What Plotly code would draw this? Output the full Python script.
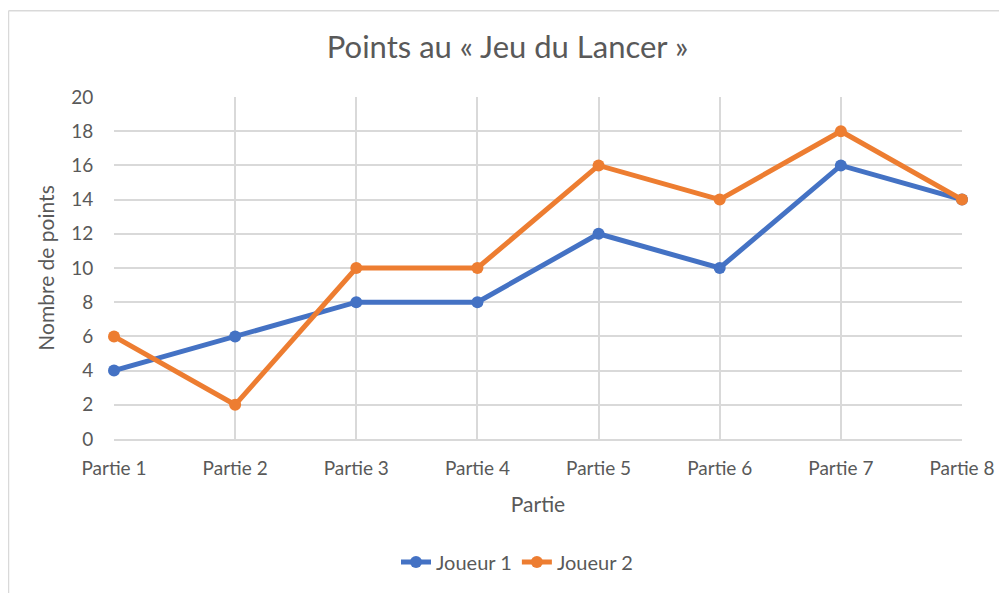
import plotly.graph_objects as go

categories = ["Partie 1", "Partie 2", "Partie 3", "Partie 4", "Partie 5", "Partie 6", "Partie 7", "Partie 8"]
joueur1 = [4, 6, 8, 8, 12, 10, 16, 14]
joueur2 = [6, 2, 10, 10, 16, 14, 18, 14]
y_ticks = list(range(0, 21, 2))

font_family = "Lato, Open Sans, sans-serif"
grey = "#595959"
grid = "#d9d9d9"

fig = go.Figure()
fig.add_trace(go.Scatter(x=categories, y=joueur1, name="Joueur 1", mode="lines+markers", cliponaxis=False,
                         line=dict(color="#4472c4", width=5), marker=dict(size=12, color="#4472c4")))
fig.add_trace(go.Scatter(x=categories, y=joueur2, name="Joueur 2", mode="lines+markers", cliponaxis=False,
                         line=dict(color="#ed7d31", width=5), marker=dict(size=12, color="#ed7d31")))

# page body offsets the figure by 8px; figure coords = reference coords - 8
OFF = 8
W, H = 1007 - OFF, 593 - OFF
L, T = 114 - OFF, 97 - OFF
R = W - (962 - OFF)
B = H - (442 - OFF)
pw, ph = W - L - R, H - T - B

def px(x):
    return (x - OFF - L) / pw

def py(y):
    return (H - B - (y - OFF)) / ph

fig.update_layout(
    width=W, height=H,
    margin=dict(l=L, r=R, t=T, b=B),
    paper_bgcolor="white", plot_bgcolor="white",
    font=dict(family=font_family, color=grey, size=19),
    title=dict(text="Points au « Jeu du Lancer »", x=0.5, xanchor="center",
               y=1 - (47 - OFF) / H, yanchor="middle", font=dict(size=31, color=grey)),
    xaxis=dict(type="category", range=[0, 7], showgrid=True, gridcolor=grid, gridwidth=1.5,
               showline=True, linecolor=grid, linewidth=1.5,
               ticks="outside", ticklen=11, tickcolor="rgba(0,0,0,0)",
               tickfont=dict(size=19, color=grey),
               title=dict(text="Partie", font=dict(size=21, color=grey), standoff=20)),
    yaxis=dict(range=[0, 20], tickvals=y_ticks, showgrid=True, gridcolor=grid, gridwidth=1.5,
               zeroline=False, showline=False,
               ticks="outside", ticklen=16, tickcolor="rgba(0,0,0,0)",
               tickfont=dict(size=19, color=grey),
               title=dict(text="Nombre de points", font=dict(size=21, color=grey), standoff=10)),
    showlegend=True,
    legend=dict(orientation="h", x=px(517), xanchor="center", y=py(566), yanchor="middle",
                font=dict(size=20, color=grey), traceorder="normal"),
)

fig.add_shape(type="line", xref="paper", yref="paper",
              x0=px(8.5), x1=px(8.5), y0=py(10), y1=py(600),
              line=dict(color=grid, width=1.5))
fig.add_shape(type="line", xref="paper", yref="paper",
              x0=px(8.5), x1=px(1010), y0=py(10), y1=py(10),
              line=dict(color=grid, width=1.5))

fig.write_html("out.html")
